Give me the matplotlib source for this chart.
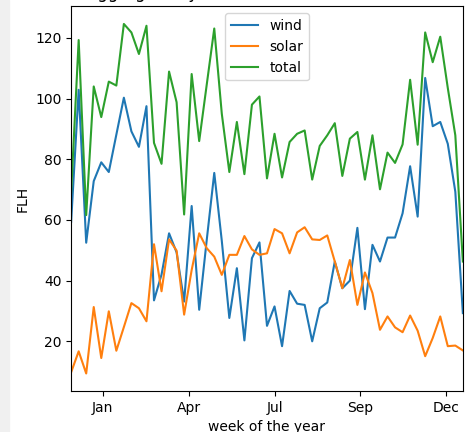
import numpy as np
import matplotlib
matplotlib.use("Agg")
import matplotlib.pyplot as plt
from matplotlib.patches import Rectangle

# weekly full load hours
wind = [59.4, 102.9, 52.5, 72.8, 79.0, 75.8, 88.1, 100.3, 89.2, 84.1,
        97.5, 33.5, 42.0, 55.6, 49.3, 33.1, 64.6, 30.4, 53.4, 75.5,
        53.1, 27.7, 44.1, 20.3, 47.4, 52.6, 25.1, 31.5, 18.4, 36.6,
        32.4, 32.0, 20.0, 30.9, 32.8, 46.3, 37.5, 40.0, 57.4, 30.6,
        51.8, 46.3, 54.2, 54.2, 62.2, 77.7, 61.1, 106.8, 90.9, 92.3,
        85.1, 69.3, 29.3]
solar = [9.8, 16.7, 9.4, 31.3, 14.5, 29.9, 16.9, 24.7, 32.6, 30.9,
         26.6, 52.0, 36.5, 53.6, 49.9, 28.8, 43.5, 55.6, 50.7, 47.9,
         41.9, 48.5, 48.5, 54.7, 50.3, 48.5, 49.0, 57.0, 55.6, 49.0,
         55.9, 57.6, 53.6, 53.4, 54.9, 46.3, 37.5, 46.8, 32.0, 42.7,
         35.9, 23.8, 28.2, 24.6, 23.0, 28.5, 23.5, 15.1, 21.1, 28.2,
         18.4, 18.6, 17.0]
total = [69.0, 119.3, 61.6, 104.0, 93.9, 105.6, 104.3, 124.6, 121.8, 114.7,
         124.0, 85.4, 78.5, 108.9, 98.8, 61.8, 108.1, 86.0, 104.6, 123.1,
         95.0, 75.8, 92.3, 75.1, 98.0, 100.7, 73.7, 88.4, 74.0, 85.7,
         88.4, 89.5, 73.3, 84.4, 87.9, 91.9, 74.5, 86.8, 89.0, 73.3,
         87.9, 70.1, 82.2, 78.8, 84.9, 106.2, 84.8, 121.8, 112.0, 120.4,
         103.5, 87.9, 46.3]
weeks = np.arange(len(wind))

month_ticks = [4.2, 15.6, 27.0, 38.4, 49.8]
month_labels = ["Jan", "Apr", "Jul", "Sep", "Dec"]

fig = plt.figure(figsize=(4.68, 4.32), dpi=100)
fig.patches.append(Rectangle((0, 0), 9 / 468, 1, transform=fig.transFigure,
                             color="#f0f0f0", zorder=0))
ax = fig.add_axes([0.152, 0.095, 0.837, 0.89])

ax.plot(weeks, wind, label="wind")
ax.plot(weeks, solar, label="solar")
ax.plot(weeks, total, label="total")

ax.set_xlim(weeks[0], weeks[-1])
ax.set_xticks(month_ticks)
ax.set_xticklabels(month_labels)
ax.set_yticks([20, 40, 60, 80, 100, 120])
ax.set_xlabel("week of the year")
ax.set_ylabel("FLH")
ax.set_title("Aggregate by week, mean over all the cells")
ax.legend(loc="upper center")

fig.savefig("out.png")
